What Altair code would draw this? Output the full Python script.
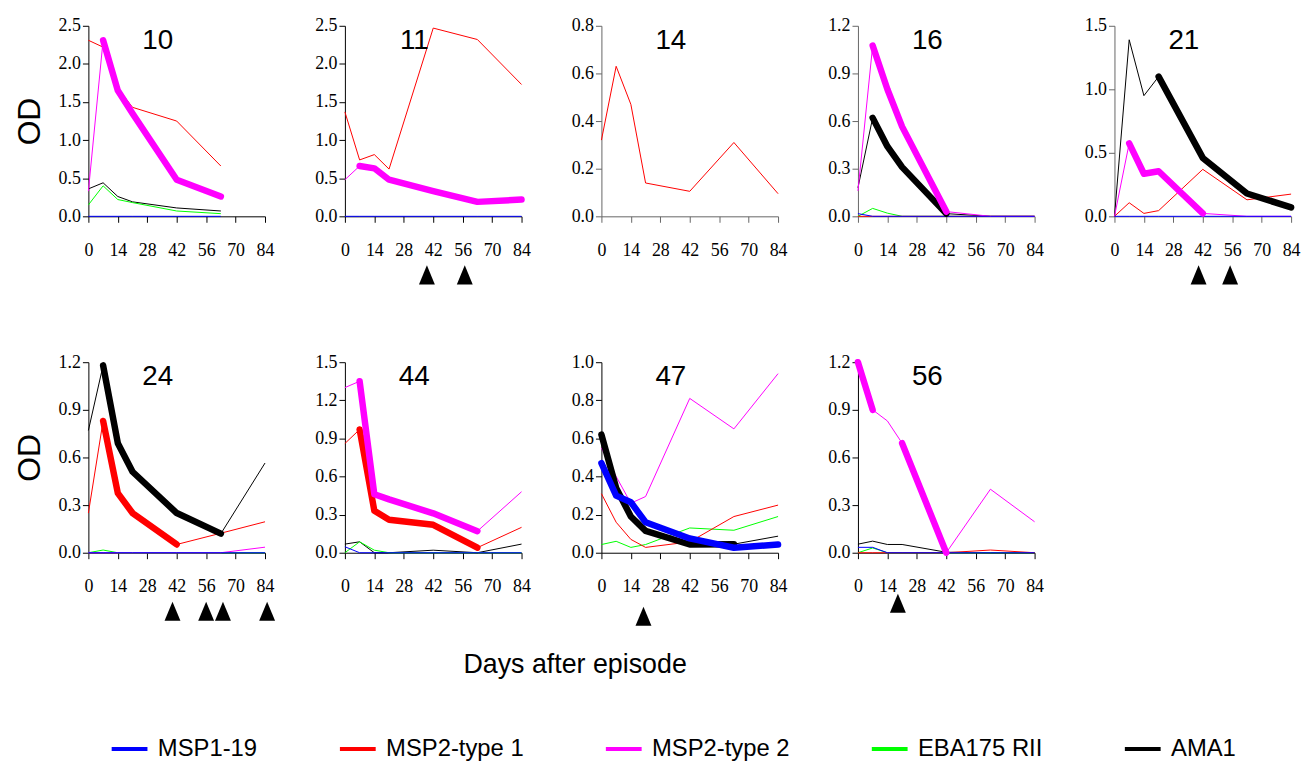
import altair as alt
import pandas as pd

DAYS = [0, 7, 14, 21, 42, 63, 84]
X_TICKS = [0, 14, 28, 42, 56, 70, 84]
ANTIGENS = ["MSP1-19", "MSP2-type 1", "MSP2-type 2", "EBA175 RII", "AMA1"]
COLORS = ["#0000ff", "#ff0000", "#ff00ff", "#00ff00", "#000000"]

# ---- Patient 10 ----
P10_MSP1 = [0, 0, 0, 0, 0, 0, None]
P10_MSP2_1 = [2.31, 2.22, 1.68, 1.43, 1.25, 0.66, None]
P10_MSP2_2 = [0.33, 2.31, 1.65, 1.35, 0.48, 0.26, None]
P10_EBA = [0.15, 0.40, 0.22, 0.18, 0.07, 0.035, None]
P10_AMA1 = [0.36, 0.44, 0.26, 0.19, 0.11, 0.07, None]
P10_THICK = [("MSP2-type 2", 7, 63)]
P10_EPISODES = []

# ---- Patient 11 ----
P11_MSP1 = [0, 0, 0, 0, 0, 0, 0]
P11_MSP2_1 = [1.37, 0.74, 0.81, 0.62, 2.47, 2.32, 1.73]
P11_MSP2_2 = [0.48, 0.66, 0.63, 0.48, 0.33, 0.19, 0.22]
P11_THICK = [("MSP2-type 2", 7, 84)]
P11_EPISODES = [39, 57]

# ---- Patient 14 ----
P14_MSP2_1 = [0.32, 0.63, 0.47, 0.14, 0.105, 0.31, 0.095]
P14_THICK = []
P14_EPISODES = []

# ---- Patient 16 ----
P16_MSP1 = [0.017, 0, 0, 0, 0, 0, 0]
P16_MSP2_1 = [0, 0, 0, 0, 0, 0, 0]
P16_MSP2_2 = [0.16, 1.075, 0.80, 0.565, 0.03, 0.0, 0.0]
P16_EBA = [0, 0.05, 0.02, 0, 0, 0, 0]
P16_AMA1 = [0.18, 0.62, 0.44, 0.31, 0.017, 0.0, 0.0]
P16_THICK = [("AMA1", 7, 42), ("MSP2-type 2", 7, 42)]
P16_EPISODES = []

# ---- Patient 21 ----
P21_MSP1 = [0, 0, 0, 0, 0, 0, 0]
P21_MSP2_1 = [0, 0.107, 0.023, 0.045, 0.37, 0.13, 0.175]
P21_MSP2_2 = [0, 0.575, 0.335, 0.355, 0.023, 0.0, 0.0]
P21_AMA1 = [0, 1.39, 0.95, 1.10, 0.46, 0.18, 0.07]
P21_THICK = [("AMA1", 21, 84), ("MSP2-type 2", 7, 42)]
P21_EPISODES = [40, 55]

# ---- Patient 24 ----
P24_MSP1 = [0, 0, 0, 0, 0, 0, 0]
P24_MSP2_1 = [0.25, 0.83, 0.375, 0.25, 0.052, 0.123, 0.195]
P24_MSP2_2 = [0, 0, 0, 0, 0, 0, 0.035]
P24_EBA = [0, 0.017, 0, 0, 0, 0, 0]
P24_AMA1 = [0.77, 1.18, 0.69, 0.51, 0.25, 0.12, 0.565]
P24_THICK = [("AMA1", 7, 63), ("MSP2-type 1", 7, 42)]
P24_EPISODES = [40, 56, 64, 85]

# ---- Patient 44 ----
P44_MSP1 = [0.047, 0, 0, 0, 0, 0, 0]
P44_MSP2_1 = [0.86, 0.97, 0.33, 0.26, 0.22, 0.04, 0.20]
P44_MSP2_2 = [1.30, 1.35, 0.46, 0.42, 0.31, 0.17, 0.48]
P44_EBA = [0, 0.086, 0.02, 0, 0, 0, 0]
P44_AMA1 = [0.068, 0.086, 0, 0, 0.02, 0, 0.068]
P44_THICK = [("MSP2-type 1", 7, 63), ("MSP2-type 2", 7, 63)]
P44_EPISODES = []

# ---- Patient 47 ----
P47_MSP1 = [0.47, 0.30, 0.265, 0.16, 0.075, 0.026, 0.043]
P47_MSP2_1 = [0.31, 0.16, 0.07, 0.028, 0.057, 0.19, 0.25]
P47_MSP2_2 = [0.55, 0.40, 0.26, 0.295, 0.81, 0.65, 0.94]
P47_EBA = [0.043, 0.06, 0.028, 0.043, 0.13, 0.118, 0.19]
P47_AMA1 = [0.62, 0.34, 0.19, 0.115, 0.043, 0.045, 0.087]
P47_THICK = [("AMA1", 0, 63), ("MSP1-19", 0, 84)]
P47_EPISODES = [20]

# ---- Patient 56 ----
P56_MSP1 = [0.034, 0.034, 0, 0, 0, 0, 0]
P56_MSP2_1 = [0, 0, 0, 0, 0, 0.017, 0]
P56_MSP2_2 = [1.2, 0.90, 0.83, 0.69, 0.0, 0.40, 0.195]
P56_EBA = [0, 0.03, 0, 0, 0, 0, 0]
P56_AMA1 = [0.054, 0.073, 0.052, 0.052, 0.003, 0, 0]
P56_THICK = [("MSP2-type 2", 0, 7), ("MSP2-type 2", 21, 42)]
P56_EPISODES = [19]

PANELS = [
    dict(pid="10", ymax=2.5, ystep=0.5, thick=P10_THICK, tris=P10_EPISODES,
         series={"MSP1-19": P10_MSP1, "MSP2-type 1": P10_MSP2_1, "MSP2-type 2": P10_MSP2_2,
                 "EBA175 RII": P10_EBA, "AMA1": P10_AMA1}),
    dict(pid="11", ymax=2.5, ystep=0.5, thick=P11_THICK, tris=P11_EPISODES,
         series={"MSP1-19": P11_MSP1, "MSP2-type 1": P11_MSP2_1, "MSP2-type 2": P11_MSP2_2}),
    dict(pid="14", ymax=0.8, ystep=0.2, thick=P14_THICK, tris=P14_EPISODES,
         series={"MSP2-type 1": P14_MSP2_1}),
    dict(pid="16", ymax=1.2, ystep=0.3, thick=P16_THICK, tris=P16_EPISODES,
         series={"MSP1-19": P16_MSP1, "MSP2-type 1": P16_MSP2_1, "MSP2-type 2": P16_MSP2_2,
                 "EBA175 RII": P16_EBA, "AMA1": P16_AMA1}),
    dict(pid="21", ymax=1.5, ystep=0.5, thick=P21_THICK, tris=P21_EPISODES,
         series={"MSP1-19": P21_MSP1, "MSP2-type 1": P21_MSP2_1, "MSP2-type 2": P21_MSP2_2,
                 "AMA1": P21_AMA1}),
    dict(pid="24", ymax=1.2, ystep=0.3, thick=P24_THICK, tris=P24_EPISODES,
         series={"MSP1-19": P24_MSP1, "MSP2-type 1": P24_MSP2_1, "MSP2-type 2": P24_MSP2_2,
                 "EBA175 RII": P24_EBA, "AMA1": P24_AMA1}),
    dict(pid="44", ymax=1.5, ystep=0.3, thick=P44_THICK, tris=P44_EPISODES,
         series={"MSP1-19": P44_MSP1, "MSP2-type 1": P44_MSP2_1, "MSP2-type 2": P44_MSP2_2,
                 "EBA175 RII": P44_EBA, "AMA1": P44_AMA1}),
    dict(pid="47", ymax=1.0, ystep=0.2, thick=P47_THICK, tris=P47_EPISODES,
         series={"MSP1-19": P47_MSP1, "MSP2-type 1": P47_MSP2_1, "MSP2-type 2": P47_MSP2_2,
                 "EBA175 RII": P47_EBA, "AMA1": P47_AMA1}),
    dict(pid="56", ymax=1.2, ystep=0.3, thick=P56_THICK, tris=P56_EPISODES,
         series={"MSP1-19": P56_MSP1, "MSP2-type 1": P56_MSP2_1, "MSP2-type 2": P56_MSP2_2,
                 "EBA175 RII": P56_EBA, "AMA1": P56_AMA1}),
]

THIN_ORDER = ["AMA1", "EBA175 RII", "MSP2-type 1", "MSP2-type 2", "MSP1-19"]
THICK_ORDER = ["AMA1", "MSP2-type 1", "MSP2-type 2", "MSP1-19"]
GREY_AXIS = {"14", "16", "21"}
TRI_Y = {"24": 251, "47": 256, "56": 243}
TRI_SHAPE = "M0,-1.2L1,1.2L-1,1.2Z"

SERIF = "Liberation Serif"
SANS = "Liberation Sans"

LEGEND = alt.Legend(orient="none", legendX=21, legendY=708, direction="horizontal",
                    columns=5, title=None, symbolType="stroke", symbolSize=1300,
                    symbolStrokeWidth=4, labelFont=SANS, labelFontSize=24,
                    labelColor="#000000", columnPadding=74, labelOffset=8,
                    labelLimit=300)


def make_panel(p, col):
    pid = p["pid"]
    axc = "#666666" if pid in GREY_AXIS else "#000000"
    n = int(round(p["ymax"] / p["ystep"]))
    yticks = [round(i * p["ystep"], 2) for i in range(n + 1)]

    xaxis_kw = dict(values=X_TICKS, grid=False, tickSize=6, labelPadding=19,
                    labelFont=SERIF, labelFontSize=18, labelColor="#000000",
                    domainColor=axc, tickColor=axc, labelAngle=0, labelFlush=False)
    if pid == "47":
        xaxis_kw.update(title="Days after episode", titleFont=SANS, titleFontSize=27,
                        titleFontWeight="normal", titleColor="#000000", titleX=-27,
                        titleY=113, titleAlign="center", titleBaseline="middle")
    else:
        xaxis_kw.update(title=None)
    yaxis_kw = dict(values=yticks, format=".1f", grid=False, tickSize=6, labelPadding=2,
                    labelFont=SERIF, labelFontSize=18, labelColor="#000000",
                    domainColor=axc, tickColor=axc, labelFlush=False)
    if col == 0:
        yaxis_kw.update(title="OD", titleFont=SANS, titleFontSize=32, titleFontWeight="normal",
                        titleColor="#000000", titlePadding=12)
    else:
        yaxis_kw.update(title=None)

    x = alt.X("day:Q", scale=alt.Scale(domain=[0, 84], nice=False, zero=False),
              axis=alt.Axis(**xaxis_kw))
    y = alt.Y("od:Q", scale=alt.Scale(domain=[0, p["ymax"]], nice=False),
              axis=alt.Axis(**yaxis_kw))
    color = alt.Color("antigen:N", scale=alt.Scale(domain=ANTIGENS, range=COLORS),
                      legend=LEGEND)

    layers = []
    for a in THIN_ORDER:
        if a not in p["series"]:
            continue
        vals = p["series"][a]
        rows = [{"day": d, "od": v, "antigen": a} for d, v in zip(DAYS, vals) if v is not None]
        layers.append(alt.Chart(pd.DataFrame(rows)).mark_line(strokeWidth=1).encode(
            x=x, y=y, color=color))

    for a in THICK_ORDER:
        rows = []
        for k, (ant, s, e) in enumerate(p["thick"]):
            if ant != a:
                continue
            vals = p["series"][a]
            for d, v in zip(DAYS, vals):
                if v is not None and s <= d <= e:
                    rows.append({"day": d, "od": v, "antigen": a, "seg": f"{a}-{k}"})
        if rows:
            layers.append(alt.Chart(pd.DataFrame(rows)).mark_line(
                strokeWidth=6.5, strokeCap="round", strokeJoin="round").encode(
                x=x, y=y, color=color, detail="seg:N"))

    layers.append(alt.Chart(pd.DataFrame({"day": [33], "label": [pid]})).mark_text(
        font=SANS, fontSize=28, baseline="middle", align="center", color="#000000").encode(
        x=x, y=alt.value(15), text="label:N"))

    if p["tris"]:
        layers.append(alt.Chart(pd.DataFrame({"day": p["tris"]})).mark_point(
            shape=TRI_SHAPE, filled=True, size=256, color="#000000", opacity=1,
            strokeWidth=0).encode(x=x, y=alt.value(TRI_Y.get(pid, 251))))

    return alt.layer(*layers).properties(width=178, height=192)


panels = [make_panel(p, i % 5) for i, p in enumerate(PANELS)]

chart = alt.concat(*panels, columns=5, spacing={"row": 147, "column": 80.5},
                   bounds="flush").properties(
    padding={"left": 5, "top": 6, "right": 5, "bottom": 5},
    background="#ffffff",
).configure_view(stroke=None)

chart.save("out.html", embed_options={"renderer": "svg", "actions": False})
